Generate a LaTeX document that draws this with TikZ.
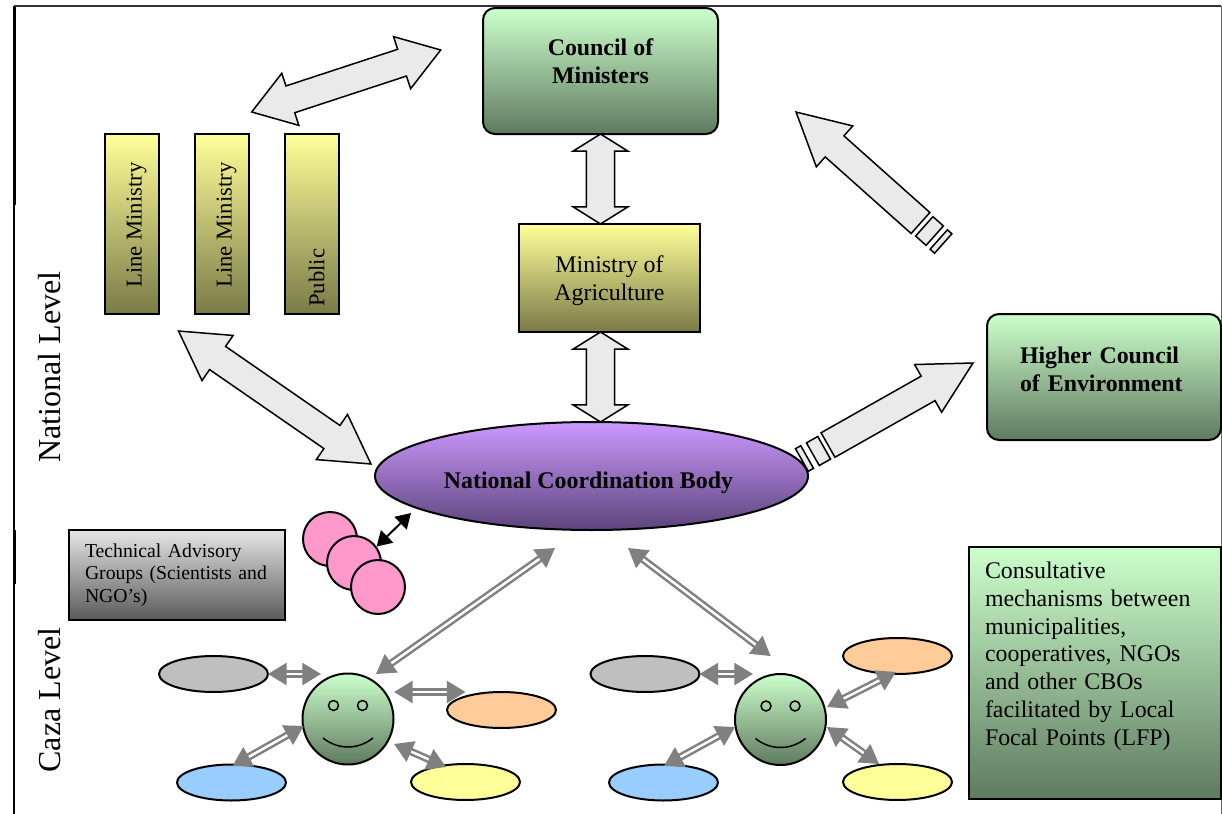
\documentclass[tikz,border=0pt]{standalone}
\usepackage{fontspec}
\setmainfont{Liberation Serif}
\usetikzlibrary{arrows.meta,calc,positioning,shapes.arrows,shapes.geometric}

\definecolor{arrowfill}{HTML}{EAEAEA}
\definecolor{linkgray}{HTML}{808080}
\def\px{0.75pt}

\tikzset{
  frameline/.style={line width=1.5*\px, black},
  box/.style={draw, line width=2*\px, inner sep=0pt, outer sep=0pt, align=center},
  greenbox/.style={box, top color={rgb,255:red,204;green,255;blue,204}, bottom color={rgb,255:red,95;green,122;blue,95}},
  yellowbox/.style={box, top color={rgb,255:red,255;green,255;blue,153}, bottom color={rgb,255:red,122;green,122;blue,72}},
  bar/.style={yellowbox, minimum width=54*\px, minimum height=180*\px},
  bartext/.style={font=\fontsize{17}{21}\selectfont, rotate=90, anchor=west, inner sep=0pt},
  plain/.style={font=\fontsize{17.9}{20.8}\selectfont},
  heavy/.style={font=\fontsize{17.9}{21}\selectfont\bfseries},
  blob/.style={ellipse, draw, line width=2*\px, inner sep=0pt, outer sep=0pt, minimum width=109*\px, minimum height=36*\px},
  pink/.style={circle, draw, line width=2*\px, fill={rgb,255:red,255;green,153;blue,204}, inner sep=0pt, minimum size=54*\px},
  face/.style={ellipse, greenbox, minimum width=91*\px, minimum height=91*\px},
  bigdouble/.style={double arrow, anchor=tip 2, draw, fill=arrowfill, line width=1.5*\px, inner xsep=0pt, inner ysep=10pt, outer sep=0pt,
    double arrow head extend=10pt, double arrow tip angle=68},
  longdouble/.style={bigdouble, double arrow tip angle=60},
  flatdouble/.style={bigdouble, double arrow tip angle=116},
  bigsingle/.style={single arrow, anchor=tail, draw, fill=arrowfill, line width=1.5*\px, inner xsep=0pt, inner ysep=10pt, outer sep=0pt,
    single arrow head extend=10pt, single arrow tip angle=56},
  stripe/.style={rectangle, draw, fill=arrowfill, line width=1.5*\px, inner sep=0pt, minimum height=26*\px},
  link/.style={draw=linkgray, line width=2.5*\px, double=white, double distance=2.5*\px,
    {Triangle[length=14pt,width=16.5pt,fill=linkgray]}-{Triangle[length=14pt,width=16.5pt,fill=linkgray]}},
  blacklink/.style={draw=black, line width=2*\px, {Triangle[length=11pt,width=13pt]}-{Triangle[length=11pt,width=13pt]}}
}

\newcommand{\blockarrow}[4]{
  \path let \p1=($(#4)-(#3)$), \n1={atan2(\y1,\x1)}, \n2={veclen(\x1,\y1)} in
    node[#1, minimum height=\n2, rotate=\n1] (#2) at (#3) {};
}

\begin{document}
\begin{tikzpicture}[x=0.75pt, y=-0.75pt]
        \useasboundingbox (0,0) rectangle (1222,814);

        \coordinate (fb) at (14,814);
        \coordinate (ft) at (14,6);
        \coordinate (fr) at (1221,6);
        \coordinate (fe) at (1221,814);
        \coordinate (fa) at (14,205);
        \coordinate (fc) at (14,530);
        \coordinate (fd) at (14,584);
        \draw[frameline] (fb) -- (ft);
        \draw[line width=3*\px] (ft) -- (fa);
        \draw[line width=3*\px] (fc) -- (fd);
        \draw[line width=2*\px, black!80] (ft) -- (fr);
        \draw[line width=1*\px, black!60] (fr) -- (fe);

        \node[greenbox, heavy, minimum width=235*\px, minimum height=126*\px, rounded corners=12*\px, text depth=19*\px] (council) at (600.5,71) {Council of\\Ministers};
        \node[yellowbox, plain, minimum width=181*\px, minimum height=108*\px, text depth=0pt] (agri) at (609.5,278) {Ministry of\\Agriculture};
        \node[greenbox, heavy, align=left, text width=168*\px, inner xsep=33*\px, minimum height=126*\px, rounded corners=12*\px, text depth=43*\px] (higher) at (1104,377) {Higher Council\\of Environment};

        \node[bar] (line1) at (132,224) {};
        \node[bar, right=27pt of line1] (line2) {};
        \node[bar, right=27pt of line2] (public) {};
        \node[bartext] (line1txt) at (136.5,288) {Line Ministry};
        \node[bartext] (line2txt) at (226.5,288) {Line Ministry};
        \node[bartext] (publictxt) at (316.5,307) {Public};

        \node[font=\fontsize{24}{28}\selectfont, rotate=90] (national) at (50,367) {National Level};
        \node[font=\fontsize{24}{28}\selectfont, rotate=90] (caza) at (50,700) {Caza Level};

        \node[stripe, minimum width=14*\px, rotate=138.3] (up1) at (929.5,231) {};
        \node[stripe, minimum width=6*\px, rotate=138.3] (up2) at (941,241.5) {};
        \node[stripe, minimum width=13*\px, rotate=29.5] (hi1) at (818.5,451) {};
        \node[stripe, minimum width=6*\px, rotate=29.5] (hi2) at (804.5,458.5) {};

        \node[ellipse, box, heavy, minimum width=433*\px, minimum height=108*\px, text height=29*\px, text depth=5*\px,
          top color={rgb,255:red,204;green,153;blue,255}, bottom color={rgb,255:red,92;green,68;blue,122}] (natbody) at (591.5,476) {\hspace*{-4.5pt}National Coordination Body};

        \coordinate (cmleft) at (251.7,112);
        \coordinate (cmright) at (440.7,50);
        \coordinate (barlow) at (178.5,331);
        \coordinate (natleft) at (371,464);
        \coordinate (uptail) at (920.5,223);
        \coordinate (uptip) at (796,112);
        \coordinate (hitail) at (828,445);
        \coordinate (hitip) at (973,363);

        \blockarrow{bigdouble}{armcouncil}{cmleft}{cmright}
        \blockarrow{longdouble}{armbars}{barlow}{natleft}
        \blockarrow{flatdouble}{armtop}{council.south}{council.south |- agri.north}
        \blockarrow{flatdouble}{armlow}{council.south |- agri.south}{council.south |- natbody.north}
        \blockarrow{bigsingle}{armup}{uptail}{uptip}
        \blockarrow{bigsingle}{armhigh}{hitail}{hitip}

        \node[box, align=left, text width=184*\px, minimum height=90*\px, inner xsep=16*\px,
          font=\fontsize{14.8}{17}\selectfont, top color=black!10, bottom color=black!65] (tech) at (177,575) {Technical Advisory\\Groups (Scientists and\\NGO’s)};
        \node[pink] (pink1) at (330,539) {};
        \node[pink] (pink2) at ($(pink1)+(24,24)$) {};
        \node[pink] (pink3) at ($(pink2)+(24,24)$) {};
        \coordinate (natpink) at (411,513);
        \draw[blacklink] (pink2.36) -- (natpink);

        \node[box, align=left, text width=220*\px, minimum height=252*\px, inner xsep=16*\px, plain, text depth=205*\px,
          line width=2*\px, top color={rgb,255:red,204;green,255;blue,204}, bottom color={rgb,255:red,95;green,122;blue,95}] (consult) at (1095,673) {Consultative\\mechanisms between\\municipalities,\\cooperatives, NGOs\\and other CBOs\\facilitated by Local\\Focal Points (LFP)};

        \node[blob, fill={rgb,255:red,191;green,191;blue,191}] (gray1) at (213.5,674) {};
        \node[blob, fill={rgb,255:red,255;green,204;blue,153}] (orange1) at (501.5,710) {};
        \node[blob, fill={rgb,255:red,153;green,204;blue,255}] (blue1) at (231.5,782.5) {};
        \node[blob, fill={rgb,255:red,255;green,255;blue,153}] (yellow1) at (465.5,782) {};
        \node[blob, fill={rgb,255:red,191;green,191;blue,191}] (gray2) at (645,674) {};
        \node[blob, fill={rgb,255:red,255;green,204;blue,153}] (orange2) at (897.5,656) {};
        \node[blob, fill={rgb,255:red,153;green,204;blue,255}] (blue2) at (663.5,782.5) {};
        \node[blob, fill={rgb,255:red,255;green,255;blue,153}] (yellow2) at (897.5,782) {};

        \node[face] (face1) at (348,719) {};
        \node[face] (face2) at (780.5,719.5) {};
        \foreach \f in {face1,face2} {
          \draw[line width=1.5*\px] ($(\f)+(-14.5,-13.5)$) circle (5);
          \draw[line width=1.5*\px] ($(\f)+(14.5,-13.5)$) circle (5);
          \draw[line width=1.5*\px] ($(\f)+(-25,19)$) .. controls +(15,12) and +(-15,12) .. +(50,0);
        }

        \coordinate (natsw) at (555,548);
        \coordinate (natse) at (628,548);
        \coordinate (f1top) at (376,674);
        \coordinate (f2top) at (770.6,656);
        \coordinate (f1w) at (321,674);
        \coordinate (f1e) at (394,692);
        \coordinate (f1s) at (303.7,726);
        \coordinate (f1r) at (394,744);
        \coordinate (o1) at (465.5,692);
        \coordinate (b1) at (232.5,766);
        \coordinate (y1) at (446,767);
        \coordinate (f2w) at (753,674);
        \coordinate (f2e) at (827,707);
        \coordinate (f2s) at (735,727);
        \coordinate (f2r) at (827,727);
        \coordinate (o2) at (896,672);
        \coordinate (b2) at (664,766);
        \coordinate (y2) at (879,764);

        \draw[link] (natsw) -- (f1top);
        \draw[link] (natse) -- (f2top);
        \draw[link] (gray1.east) -- (f1w);
        \draw[link] (f1e) -- (o1);
        \draw[link] (f1s) -- (b1);
        \draw[link] (f1r) -- (y1);
        \draw[link] (gray2.east) -- (f2w);
        \draw[link] (f2e) -- (o2);
        \draw[link] (f2s) -- (b2);
        \draw[link] (f2r) -- (y2);
\end{tikzpicture}
\end{document}
